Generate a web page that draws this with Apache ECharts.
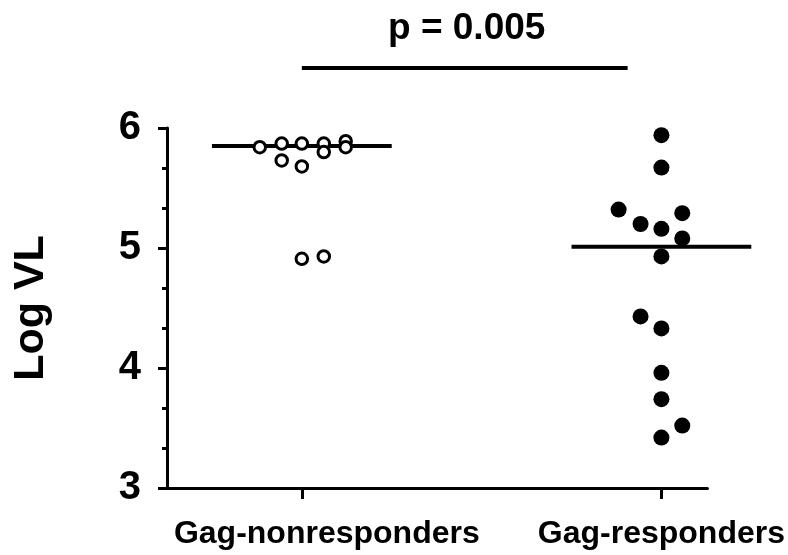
<!DOCTYPE html>
<html>
<head>
<meta charset="utf-8">
<script src="https://cdn.jsdelivr.net/npm/echarts@6/dist/echarts.min.js"></script>
<style>
html,body{margin:0;padding:0;background:#fff;}
#chart{width:788px;height:555px;}
</style>
</head>
<body>
<div id="chart"></div>
<script>
// Categories and tick labels
var categories = ["Gag-nonresponders", "Gag-responders"];
var categoryPos = [1, 2];
var yTicks = [3, 4, 5, 6];

// Gag-nonresponders: horizontal jitter offset and Log VL
var nonJitter = [-0.117, -0.056, -0.056, 0, 0, 0.061, 0.061, 0.122, 0.122, 0, 0.061];
var nonLogVL  = [5.84, 5.87, 5.73, 5.87, 5.68, 5.87, 5.80, 5.89, 5.84, 4.91, 4.93];

// Gag-responders: horizontal jitter offset and Log VL
var resJitter = [0, 0, -0.119, 0.058, -0.058, 0, 0.058, 0, -0.058, 0, 0, 0, 0.058, 0];
var resLogVL  = [5.94, 5.67, 5.32, 5.29, 5.20, 5.16, 5.08, 4.93, 4.43, 4.33, 3.96, 3.74, 3.52, 3.42];

// Medians
var medians = [5.85, 5.01];
var medianHalfWidth = 0.25;

// Significance annotation
var pText = "p = 0.005";
var sigFrom = 1.0, sigTo = 1.906, sigY = 6.5;

function pts(pos, jit, vals) {
  return vals.map(function (v, i) { return [pos + jit[i], v]; });
}

var FONT = "'Liberation Sans', Arial, Helvetica, sans-serif";
var chart = echarts.init(document.getElementById('chart'));

function hLine(params, api) {
  var a = api.coord([api.value(0), api.value(2)]);
  var b = api.coord([api.value(1), api.value(2)]);
  return {
    type: 'line',
    shape: { x1: a[0], y1: a[1], x2: b[0], y2: b[1] },
    style: { stroke: '#000', lineWidth: 4 }
  };
}

var medianData = categoryPos.map(function (p, i) {
  return [p - medianHalfWidth, p + medianHalfWidth, medians[i]];
});

chart.setOption({
  animation: false,
  backgroundColor: '#fff',
  title: {
    text: pText,
    left: 383, top: 5,
    textStyle: { fontFamily: FONT, fontWeight: 'bold', fontSize: 37, color: '#000' }
  },
  grid: { left: 167, right: 80, top: 128, bottom: 67 },
  xAxis: {
    type: 'value',
    min: 0.625, max: 2.128,
    splitLine: { show: false },
    axisLine: { show: true, lineStyle: { color: '#000', width: 3 } },
    axisTick: { show: true, customValues: categoryPos, length: 11, lineStyle: { color: '#000', width: 3 } },
    axisLabel: {
      customValues: categoryPos,
      formatter: function (v) {
        var i = Math.round(v) - 1;
        return i === 0 ? '{s|' + categories[i] + '}' : '{n|' + categories[i] + '}';
      },
      rich: {
        s: { fontFamily: FONT, fontWeight: 'bold', fontSize: 32, color: '#000', padding: [0, 0, 0, 50] },
        n: { fontFamily: FONT, fontWeight: 'bold', fontSize: 32, color: '#000' }
      },
      fontFamily: FONT, fontWeight: 'bold', fontSize: 32, color: '#000', margin: 30
    }
  },
  yAxis: {
    type: 'value',
    min: 3, max: 6, interval: 1,
    name: 'Log VL',
    nameLocation: 'middle',
    nameGap: 114,
    nameTextStyle: { fontFamily: FONT, fontWeight: 'bold', fontSize: 43, color: '#000' },
    splitLine: { show: false },
    axisLine: { show: true, lineStyle: { color: '#000', width: 3 } },
    axisTick: { show: true, length: 9, lineStyle: { color: '#000', width: 3 } },
    minorTick: { show: true, splitNumber: 3, length: 5, lineStyle: { color: '#000', width: 3 } },
    axisLabel: {
      fontFamily: FONT, fontWeight: 'bold', fontSize: 40, color: '#000', margin: 26,
      formatter: function (v) { return yTicks.indexOf(v) >= 0 ? String(v) : ''; }
    }
  },
  series: [
    {
      type: 'custom', data: medianData, renderItem: hLine, clip: false, z: 1,
      encode: { x: [0, 1], y: 2 }
    },
    {
      type: 'custom', data: [[sigFrom, sigTo, sigY]], renderItem: hLine, clip: false, z: 1,
      encode: { x: [0, 1], y: 2 }
    },
    {
      type: 'scatter', data: pts(categoryPos[0], nonJitter, nonLogVL),
      symbol: 'circle', symbolSize: 11.5,
      itemStyle: { color: '#fff', borderColor: '#000', borderWidth: 3, opacity: 1 }, z: 3
    },
    {
      type: 'scatter', data: pts(categoryPos[1], resJitter, resLogVL),
      symbol: 'circle', symbolSize: 16,
      itemStyle: { color: '#000', opacity: 1 }, z: 3
    }
  ]
});
</script>
</body>
</html>
